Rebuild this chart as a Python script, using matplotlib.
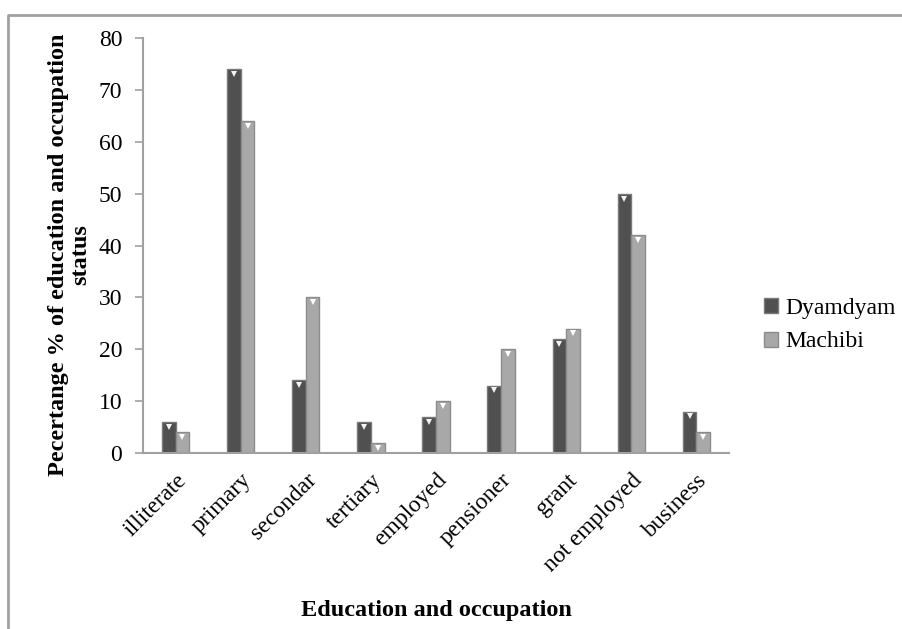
import matplotlib
matplotlib.use('Agg')
import matplotlib.pyplot as plt
import numpy as np
from matplotlib.lines import Line2D
from matplotlib.patches import Patch

plt.rcParams['font.family'] = ['Liberation Serif', 'DejaVu Serif']

# education / occupation categories and percentages per village
categories = ['illiterate', 'primary', 'secondar', 'tertiary', 'employed',
              'pensioner', 'grant', 'not employed', 'business']
dyamdyam = [6, 74, 14, 6, 7, 13, 22, 50, 8]
machibi = [4, 64, 30, 2, 10, 20, 24, 42, 4]
series_names = ['Dyamdyam', 'Machibi']

dark = '#505050'
light = '#a8a8a8'
axis_grey = '#a0a0a0'

fig = plt.figure(figsize=(9.02, 6.29), dpi=100)
ax = fig.add_axes([143/902, 1-453/629, 586/902, 415/629])

x = np.arange(len(categories))
w = 0.21
ax.bar(x - w/2, dyamdyam, w, color=dark, edgecolor='#7a7a7a', linewidth=1.0, zorder=2)
ax.bar(x + w/2, machibi, w, color=light, edgecolor='#8c8c8c', linewidth=1.0, zorder=2)

# little white bevel just under the top of each bar
ax.plot(x - w/2, np.array(dyamdyam) - 0.95, 'v', color='#f4f4f4', ms=4.6, mew=0, zorder=3)
ax.plot(x + w/2, np.array(machibi) - 0.95, 'v', color='white', ms=4.6, mew=0, zorder=3)

ax.set_xlim(-0.5, len(categories) - 0.5)
ax.set_ylim(0, 80)
ax.set_yticks(range(0, 81, 10))
ax.set_xticks(x)
ax.set_xticklabels(categories, rotation=45, ha='right', rotation_mode='anchor')
ax.tick_params(axis='x', length=0, pad=12, labelsize=17)
ax.tick_params(axis='y', length=6, width=1.2, color=axis_grey, pad=9, labelsize=17)

for s in ['top', 'right']:
    ax.spines[s].set_visible(False)
for s in ['left', 'bottom']:
    ax.spines[s].set_color(axis_grey)
    ax.spines[s].set_linewidth(1.5)

ax.set_ylabel('Pecertange % of education and occupation\nstatus',
              fontsize=17.5, fontweight='bold', linespacing=1.1)
ax.yaxis.set_label_coords(-0.088, 0.477)
ax.set_xlabel('Education and occupation', fontsize=17.5, fontweight='bold')
ax.xaxis.set_label_coords(0.5, -0.354)

handles = [Patch(facecolor=dark, edgecolor='#7a7a7a'),
           Patch(facecolor=light, edgecolor='#8c8c8c')]
fig.legend(handles, series_names, loc='center left',
           bbox_to_anchor=(752/902, 1-325/629), frameon=False, fontsize=17,
           handlelength=0.6, handleheight=0.6, handletextpad=0.3,
           labelspacing=0.55, borderpad=0)

# outer frame around the chart area
fig.add_artist(Line2D([8/902, 8/902, 1.0], [0.0, 1-15/629, 1-15/629],
                      transform=fig.transFigure, color=axis_grey, lw=2))

fig.savefig('out.png', dpi=100)
